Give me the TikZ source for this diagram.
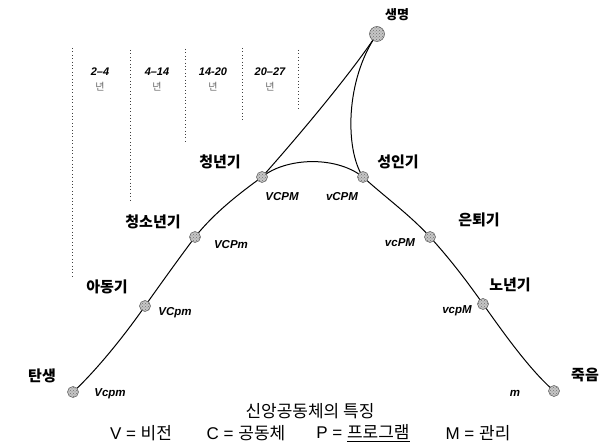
\documentclass[tikz,border=0pt]{standalone}
\usepackage{fontspec}
\setmainfont{Liberation Sans}
\newfontfamily\kr{Noto Sans CJK KR}
\usetikzlibrary{patterns,backgrounds}
\begin{document}
\begin{tikzpicture}[x=1pt,y=-1pt,
  dot/.style={circle,minimum size=11pt,inner sep=0pt,draw=black!65,line width=0.5pt,
    preaction={fill=gray!45},pattern=crosshatch dots,pattern color=black!55},
  bigdot/.style={dot,minimum size=15pt},
  stage/.style={font=\kr\bfseries\fontsize{15}{15}\selectfont,inner sep=0pt},
  code/.style={font=\bfseries\itshape\fontsize{11.5}{12}\selectfont,inner sep=0pt},
  age/.style={font=\bfseries\itshape\fontsize{11}{11}\selectfont,inner sep=0pt},
  yr/.style={font=\kr\fontsize{10}{10}\selectfont,text=black!60,inner sep=0pt},
  sep/.style={line width=0.8pt,black!75,dash pattern=on 0.8pt off 2.6pt},
  life/.style={line width=1pt,black},
  legend/.style={font=\fontsize{17}{17}\selectfont,inner sep=0pt}
]
\useasboundingbox (0,0) rectangle (606,446);

% age separators
\draw[sep] (72,48) -- (72,277);
\draw[sep] (130,50) -- (130,200);
\draw[sep] (185,49) -- (185,143);
\draw[sep] (242,48) -- (242,120);
\draw[sep] (298,50) -- (298,110);

% age labels
\node[age] (a1) at (100,72) {2--4};
\node[age] (a2) at (157,72) {4--14};
\node[age] (a3) at (213,72) {14-20};
\node[age] (a4) at (270,72) {20--27};
\node[yr] (y1) at (100,87) {년};
\node[yr] (y2) at (157,87) {년};
\node[yr] (y3) at (213,87) {년};
\node[yr] (y4) at (270,87) {년};

% stage points
\node[bigdot] (life) at (377,34) {};
\node[dot] (birth) at (73,392) {};
\node[dot] (child) at (145,306) {};
\node[dot] (youth) at (195,237) {};
\node[dot] (young) at (262,177) {};
\node[dot] (adult) at (363,177) {};
\node[dot] (retire) at (430,237) {};
\node[dot] (old) at (483,304) {};
\node[dot] (death) at (554,391) {};

% curves
\begin{scope}[on background layer]
\draw[life] (birth.center) .. controls (95,372) and (125,335) .. (child.center)
  .. controls (162,282) and (180,257) .. (youth.center)
  .. controls (215,212) and (240,193) .. (young.center);
\draw[life] (young.center) .. controls (295,140) and (350,75) .. (life.center);
\draw[life] (young.center) .. controls (285,158) and (335,155) .. (adult.center);
\draw[life] (adult.center) .. controls (345,150) and (345,80) .. (life.center);
\draw[life] (adult.center) .. controls (385,197) and (410,215) .. (retire.center)
  .. controls (450,259) and (466,280) .. (old.center)
  .. controls (505,335) and (530,370) .. (death.center);
\end{scope}

% stage names
\node[stage,font=\kr\bfseries\fontsize{13}{13}\selectfont] (llife) at (397,15) {생명};
\node[stage] (lbirth) at (42,376) {탄생};
\node[stage] (lchild) at (107,287) {아동기};
\node[stage] (lyouth) at (153,222) {청소년기};
\node[stage] (lyoung) at (220,162) {청년기};
\node[stage] (ladult) at (398,162) {성인기};
\node[stage] (lretire) at (479,220) {은퇴기};
\node[stage] (lold) at (510,285) {노년기};
\node[stage] (ldeath) at (585,375) {죽음};

% characteristic codes
\node[code] (c1) at (110,394) {Vcpm};
\node[code] (c2) at (175,313) {VCpm};
\node[code] (c3) at (231,245) {VCPm};
\node[code] (c4) at (282,197) {VCPM};
\node[code] (c5) at (342,197) {vCPM};
\node[code] (c6) at (400,243) {vcPM};
\node[code] (c7) at (457,311) {vcpM};
\node[code] (c8) at (515,393) {m};

% legend
\node[legend] (title) at (310,411) {\kr 신앙공동체의 특징};
\node[legend] (lv) at (141,433) {V = {\kr 비전}};
\node[legend] (lc) at (246,433) {C = {\kr 공동체}};
\node[legend] (lp) at (363,433) {P = {\kr\underline{프로그램}}};
\node[legend] (lm) at (478,433) {M = {\kr 관리}};
\end{tikzpicture}
\end{document}
